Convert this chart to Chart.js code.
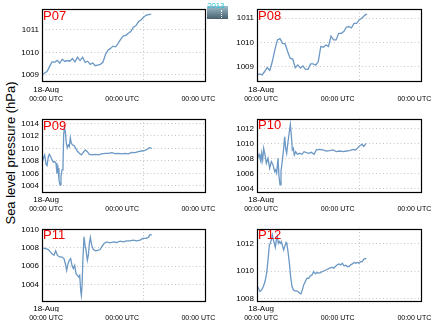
<!DOCTYPE html>
<html>
<head>
<meta charset="utf-8">
<script src="https://cdn.jsdelivr.net/npm/chart.js@4.4.0/dist/chart.umd.min.js"></script>
<style>
  body { margin: 0; background: #fff; }
  #wrap { position: relative; width: 436px; height: 327px; overflow: hidden; font-family: "Liberation Sans", Arial, sans-serif; }
  #wrap canvas { position: absolute; }
  #ytitle { position: absolute; left: 10px; top: 153px; transform: translate(-50%, -50%) rotate(-90deg); font-size: 13px; white-space: nowrap; color: #000; }
  #logo { position: absolute; left: 207px; top: 6px; width: 21px; height: 13px; background: linear-gradient(#9fbecb, #46606e); }
  #logo .dots { position: absolute; left: 14px; top: 4px; height: 8px; border-left: 1px dotted #fff; }
  #logo .yr { position: absolute; left: 0; top: -4px; font-size: 8px; line-height: 8px; color: #29c3d8; letter-spacing: -0.2px; }
</style>
</head>
<body>
<div id="wrap">
  <div id="ytitle">Sea level pressure (hPa)</div>
  <div id="logo"><span class="yr">2013</span><span class="dots"></span></div>
  <canvas id="p07"></canvas>
  <canvas id="p08"></canvas>
  <canvas id="p09"></canvas>
  <canvas id="p10"></canvas>
  <canvas id="p11"></canvas>
  <canvas id="p12"></canvas>
</div>
<script>
// time axis: hours since 18-Aug 00:00 UTC
const hourMin = -1.3;
const hourMax = 50.1;
const dayTicks = [0, 24, 48];
const dayGridHour = 30.8;

// P07 and P08 share one sampling
const hoursA = [-1.3, -0.5, 0.3, 1.1, 1.9, 2.7, 3.5, 4.3, 5.1, 5.9, 6.7, 7.5, 8.3, 9.1, 9.9, 10.7,
  11.5, 12.3, 13.1, 13.9, 14.7, 15.5, 16.3, 17.1, 17.9, 18.7, 19.5, 20.3, 21.1, 21.9, 22.7, 23.5,
  24.3, 25.1, 25.9, 26.7, 27.5, 28.3, 29.1, 29.9, 30.7, 31.5, 32.3, 33.1];

const p07 = [1008.97, 1009.09, 1009.15, 1009.38, 1009.59, 1009.56, 1009.65, 1009.52, 1009.7, 1009.6,
  1009.64, 1009.61, 1009.73, 1009.58, 1009.79, 1009.64, 1009.79, 1009.56, 1009.61, 1009.47, 1009.53,
  1009.41, 1009.44, 1009.47, 1009.56, 1009.9, 1010.1, 1010.18, 1010.28, 1010.25, 1010.4, 1010.58,
  1010.73, 1010.76, 1010.85, 1010.93, 1011.12, 1011.18, 1011.36, 1011.44, 1011.56, 1011.65, 1011.68, 1011.7];

const p08 = [1008.67, 1008.71, 1008.67, 1008.81, 1008.97, 1008.85, 1009.22, 1009.7, 1010.11, 1010.16,
  1009.97, 1009.95, 1009.63, 1009.36, 1009.32, 1008.97, 1009.08, 1008.95, 1009.04, 1008.9, 1008.9,
  1009.12, 1009.12, 1009.07, 1009.22, 1009.84, 1009.81, 1009.9, 1009.84, 1010.27, 1010.11, 1010.11,
  1010.38, 1010.38, 1010.45, 1010.63, 1010.66, 1010.6, 1010.79, 1010.79, 1010.93, 1011.0, 1011.1, 1011.18];

const p09Hours = [-1.3, -0.88, -0.46, -0.04, 0.28, 0.7, 1.01, 1.43, 1.85, 2.28, 2.7, 3.12, 3.43, 3.75,
  4.06, 4.38, 4.69, 5.01, 5.32, 5.53, 5.75, 6.06, 6.38, 6.69, 7.01, 7.32, 7.64, 7.95, 8.37, 8.8, 9.32,
  9.85, 10.48, 11.11, 11.74, 12.37, 13.0, 13.63, 14.47, 15.42, 16.47, 17.52, 18.57, 19.63, 20.68,
  21.73, 22.78, 23.83, 24.88, 25.93, 26.99, 28.04, 29.09, 30.14, 31.19, 32.03, 32.56, 33.3];
const p09 = [1007.6, 1008.4, 1008.94, 1007.45, 1007.23, 1008.67, 1009.04, 1008.67, 1008.14, 1007.77,
  1007.87, 1007.6, 1006.0, 1006.8, 1004.95, 1004.15, 1005.48, 1006.54, 1007.34, 1012.13, 1013.3,
  1012.66, 1010.8, 1010.1, 1010.53, 1010.27, 1011.7, 1010.8, 1010.53, 1010.43, 1010.0, 1009.57,
  1009.2, 1008.94, 1009.36, 1009.73, 1009.47, 1009.04, 1008.94, 1009.04, 1008.94, 1009.1, 1009.2,
  1009.2, 1009.31, 1009.15, 1009.2, 1009.1, 1009.2, 1009.1, 1009.36, 1009.31, 1009.47, 1009.57,
  1009.68, 1009.89, 1010.1, 1010.0];

const p10Hours = [-1.3, -0.99, -0.67, -0.36, -0.05, 0.16, 0.48, 0.79, 1.21, 1.63, 2.15, 2.67, 3.19,
  3.72, 4.24, 4.55, 4.87, 5.28, 5.6, 5.91, 6.22, 6.54, 6.95, 7.37, 7.69, 8.0, 8.42, 8.84, 9.15, 9.46,
  9.78, 10.09, 10.4, 10.82, 11.34, 12.08, 12.81, 13.43, 14.17, 14.9, 15.73, 16.57, 17.3, 18.34,
  19.39, 20.43, 21.48, 22.52, 23.57, 24.61, 25.66, 26.7, 27.75, 28.79, 29.53, 30.15, 30.88, 31.62,
  32.14, 32.66, 32.97];
const p10 = [1008.45, 1008.23, 1008.54, 1008.01, 1007.57, 1008.67, 1007.79, 1009.34, 1008.45, 1007.35,
  1008.01, 1006.68, 1007.57, 1007.12, 1006.24, 1006.46, 1006.02, 1008.01, 1005.58, 1004.47, 1006.24,
  1007.35, 1008.89, 1010.88, 1009.34, 1008.67, 1010.22, 1011.55, 1012.52, 1011.11, 1009.12, 1009.34,
  1008.45, 1008.89, 1008.54, 1008.67, 1008.54, 1008.89, 1008.76, 1008.67, 1008.81, 1008.54, 1009.12,
  1009.2, 1009.12, 1008.98, 1009.03, 1009.12, 1008.89, 1008.98, 1008.89, 1008.98, 1009.03, 1009.2,
  1009.12, 1009.34, 1009.69, 1009.87, 1009.6, 1009.87, 1010.0];

const p11Hours = [-1.3, -0.35, 0.7, 1.75, 2.49, 3.01, 3.54, 4.17, 4.9, 5.64, 6.17, 6.48, 6.9, 7.32,
  7.74, 8.16, 8.58, 9.01, 9.43, 9.85, 10.27, 10.58, 10.9, 11.11, 11.32, 11.63, 11.95, 12.26, 12.58,
  13.0, 13.32, 13.63, 13.95, 14.37, 14.89, 15.63, 16.47, 17.0, 17.52, 18.26, 19.1, 20.15, 21.2,
  22.25, 23.31, 24.36, 25.41, 26.46, 27.51, 28.56, 29.62, 30.46, 31.51, 32.24, 32.77, 33.3];
const p11 = [1008.0, 1007.93, 1007.82, 1007.38, 1007.2, 1007.67, 1007.2, 1007.02, 1007.02, 1006.84,
  1006.11, 1005.56, 1006.29, 1006.65, 1006.84, 1006.11, 1005.75, 1006.11, 1005.2, 1005.02, 1004.84,
  1005.02, 1003.38, 1002.84, 1003.75, 1007.02, 1009.2, 1008.29, 1007.75, 1006.65, 1007.2, 1008.47,
  1009.13, 1008.29, 1007.82, 1007.67, 1007.75, 1007.82, 1008.11, 1008.47, 1008.65, 1008.55, 1008.65,
  1008.58, 1008.73, 1008.65, 1008.76, 1008.76, 1008.84, 1008.76, 1008.84, 1009.02, 1009.02, 1009.13,
  1009.45, 1009.38];

const p12Hours = [-1.3, -0.88, -0.36, 0.16, 0.69, 1.21, 1.73, 2.15, 2.57, 2.88, 3.19, 3.51, 3.82, 4.13,
  4.45, 4.76, 5.07, 5.39, 5.7, 6.01, 6.33, 6.75, 7.06, 7.37, 7.79, 8.1, 8.42, 8.84, 9.25, 9.67, 10.09,
  10.51, 11.03, 11.55, 12.08, 12.49, 12.91, 13.33, 13.85, 14.37, 14.9, 15.42, 15.94, 16.46, 16.99,
  17.51, 18.03, 18.66, 19.18, 19.91, 20.75, 21.48, 22.21, 22.73, 23.26, 23.88, 24.41, 24.93, 25.45,
  25.97, 26.5, 27.02, 27.54, 28.06, 28.59, 29.11, 29.63, 30.15, 30.68, 31.2, 31.72, 32.14, 32.56, 32.97];
const p12 = [1009.01, 1008.77, 1008.53, 1008.65, 1008.89, 1009.25, 1009.86, 1010.82, 1011.9, 1012.02,
  1012.27, 1012.63, 1012.27, 1012.02, 1011.73, 1012.27, 1012.51, 1012.02, 1012.14, 1012.02, 1012.14,
  1011.78, 1011.54, 1011.78, 1012.07, 1011.9, 1011.42, 1010.58, 1009.61, 1008.89, 1008.65, 1008.58,
  1008.58, 1008.53, 1008.41, 1008.36, 1008.65, 1009.01, 1009.25, 1009.49, 1009.49, 1009.66, 1009.73,
  1009.98, 1009.81, 1009.9, 1009.86, 1009.9, 1009.98, 1010.05, 1010.14, 1010.22, 1010.29, 1010.22,
  1010.34, 1010.46, 1010.53, 1010.46, 1010.58, 1010.39, 1010.43, 1010.34, 1010.34, 1010.46, 1010.53,
  1010.63, 1010.58, 1010.63, 1010.58, 1010.7, 1010.7, 1010.87, 1010.92, 1010.87];

// y ranges and tick values per station
const ticks07 = [1009, 1010, 1011];
const ticks08 = [1009, 1010, 1011];
const ticks09 = [1004, 1006, 1008, 1010, 1012, 1014];
const ticks10 = [1004, 1006, 1008, 1010, 1012];
const ticks11 = [1004, 1006, 1008, 1010];
const ticks12 = [1008, 1010, 1012];

const LINE = '#6b98c5';
const GRID = '#c4c4c4';
const FONT = '"Liberation Sans", Arial, sans-serif';

// frame + station name inside the top-left corner
const panelLabel = {
  id: 'panelLabel',
  afterDraw(chart, args, opts) {
    const {ctx, chartArea: a} = chart;
    ctx.save();
    ctx.strokeStyle = '#000';
    ctx.lineWidth = 1.2;
    ctx.strokeRect(Math.round(a.left) + 0.5, Math.round(a.top) + 0.5,
      Math.round(a.width), Math.round(a.height));
    ctx.fillStyle = '#ee0000';
    ctx.font = '13px ' + FONT;
    ctx.textBaseline = 'top';
    ctx.fillText(opts.text, a.left + 1, a.top + 0.5);
    ctx.restore();
  }
};

function noPad(scale) {
  scale.paddingLeft = 0; scale.paddingRight = 0;
  scale.paddingTop = 0; scale.paddingBottom = 0;
}

function makePanel(id, name, hours, values, yMin, yMax, yTicks, box) {
  const canvas = document.getElementById(id);
  const left = box.l < 200 ? 0 : 218;
  const width = left === 0 ? 220 : 218;
  const top = Math.round(box.t) - 9;
  const height = Math.round(box.b) + 27 - top;
  canvas.width = width; canvas.height = height;
  canvas.style.left = left + 'px';
  canvas.style.top = top + 'px';

  const points = hours.map((h, i) => ({x: h, y: values[i]}));

  return new Chart(canvas, {
    type: 'line',
    data: { datasets: [{ data: points, borderColor: LINE, borderWidth: 1.3, pointRadius: 0, tension: 0, fill: false }] },
    plugins: [panelLabel],
    options: {
      responsive: false,
      animation: false,
      devicePixelRatio: 1,
      layout: { padding: { left: 0, top: box.t - top, right: left + width - box.r, bottom: top + height - box.b - 26 } },
      plugins: { legend: { display: false }, tooltip: { enabled: false }, panelLabel: { text: name } },
      scales: {
        x: {
          type: 'linear', position: 'bottom', weight: 0, min: hourMin, max: hourMax,
          ticks: { display: false },
          grid: { color: ctx => (ctx.tick && ctx.tick.value === dayGridHour ? GRID : 'rgba(0,0,0,0)'), drawTicks: false, lineWidth: 1 },
          border: { display: false, dash: [1, 2.5] },
          afterBuildTicks: s => { s.ticks = [{value: dayGridHour}]; },
          afterFit: s => { s.height = 0; noPad(s); }
        },
        xDate: {
          type: 'linear', position: 'bottom', weight: 1, min: hourMin, max: hourMax,
          grid: { display: false, drawTicks: false },
          border: { display: false },
          ticks: { autoSkip: false, maxRotation: 0, padding: 3.5, color: '#000', font: { family: FONT, size: 8 }, callback: () => '18-Aug' },
          afterBuildTicks: s => { s.ticks = [{value: dayTicks[0]}]; },
          afterFit: s => { s.height = 12; noPad(s); }
        },
        xTime: {
          type: 'linear', position: 'bottom', weight: 2, min: hourMin, max: hourMax,
          grid: { display: false, drawTicks: false },
          border: { display: false },
          ticks: { autoSkip: false, maxRotation: 0, padding: 1.5, color: '#000', font: { family: FONT, size: 7 }, callback: () => '00:00 UTC' },
          afterBuildTicks: s => { s.ticks = dayTicks.map(v => ({value: v})); },
          afterFit: s => { s.height = 14; noPad(s); }
        },
        y: {
          type: 'linear', min: yMin, max: yMax,
          grid: { color: GRID, drawTicks: false, lineWidth: 1 },
          border: { display: false, dash: [1, 2.5] },
          ticks: { padding: 3, color: '#000', font: { family: FONT, size: 8 }, callback: v => String(v) },
          afterBuildTicks: s => { s.ticks = yTicks.map(v => ({value: v})); },
          afterFit: s => { s.width = box.l - left; noPad(s); }
        }
      }
    }
  });
}

makePanel('p07', 'P07', hoursA, p07, 1008.73, 1011.93, ticks07, {l: 42, r: 205, t: 9, b: 81});
makePanel('p08', 'P08', hoursA, p08, 1008.42, 1011.38, ticks08, {l: 257, r: 421, t: 9, b: 81});
makePanel('p09', 'P09', p09Hours, p09, 1003.09, 1014.69, ticks09, {l: 42, r: 205, t: 119, b: 191.5});
makePanel('p10', 'P10', p10Hours, p10, 1003.64, 1013.32, ticks10, {l: 257, r: 421, t: 118.5, b: 191});
makePanel('p11', 'P11', p11Hours, p11, 1002.34, 1010.1, ticks11, {l: 42, r: 205, t: 228.5, b: 300});
makePanel('p12', 'P12', p12Hours, p12, 1007.88, 1013.09, ticks12, {l: 257, r: 421, t: 228.5, b: 300.5});
</script>
</body>
</html>
